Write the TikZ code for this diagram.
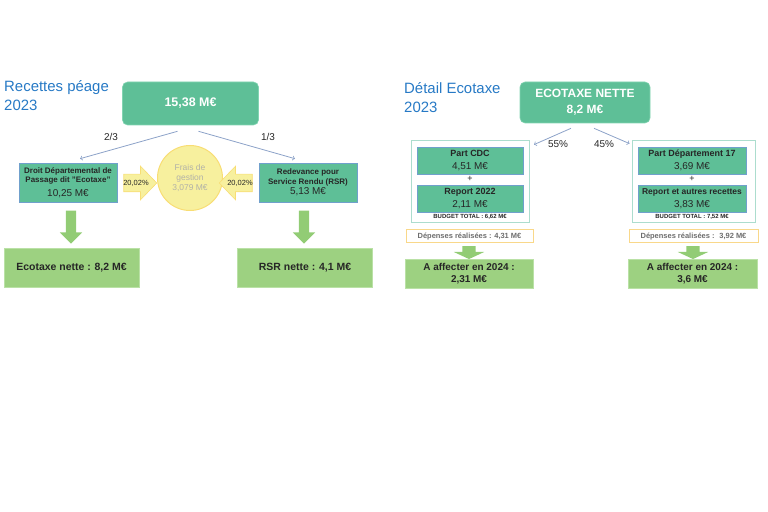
\documentclass[tikz,border=0pt]{standalone}
\usepackage{fontspec}
\setmainfont{Liberation Sans}
\usetikzlibrary{shapes.arrows}

\definecolor{titleblue}{RGB}{38,121,197}
\definecolor{boxgreen}{RGB}{94,191,151}
\definecolor{boxedge}{RGB}{130,212,178}
\definecolor{blueedge}{RGB}{112,160,204}
\definecolor{netgreen}{RGB}{157,209,129}
\definecolor{netedge}{RGB}{186,225,166}
\definecolor{arrowgreen}{RGB}{146,204,117}
\definecolor{sunfill}{RGB}{247,240,158}
\definecolor{sunedge}{RGB}{248,221,116}
\definecolor{linkblue}{RGB}{140,162,200}
\definecolor{framegreen}{RGB}{172,221,206}
\definecolor{spentedge}{RGB}{249,216,138}
\definecolor{greytext}{RGB}{110,110,110}
\definecolor{fadedtext}{RGB}{178,178,168}
\definecolor{darktext}{RGB}{38,38,38}

\begin{document}
\begin{tikzpicture}[x=1bp, y=-1bp,
    title/.style={anchor=north west, align=left, inner sep=0pt, text=titleblue, font=\fontsize{15}{19}\selectfont},
    headbox/.style={draw=boxedge, fill=boxgreen, rounded corners=5bp, line width=0.6bp, text=white, align=center},
    partbox/.style={draw=blueedge, fill=boxgreen, line width=0.6bp, inner sep=1bp, text=darktext, align=center},
    netbox/.style={draw=netedge, fill=netgreen, line width=0.6bp, inner sep=1bp, text=darktext, align=center},
    frame/.style={draw=framegreen, line width=0.8bp},
    spent/.style={draw=spentedge, fill=white, line width=1bp, inner sep=1bp, text=greytext, font=\bfseries\fontsize{7.5}{9}\selectfont},
    budget/.style={inner sep=0pt, text=darktext, font=\bfseries\fontsize{6}{7}\selectfont},
    downarrow/.style={single arrow, fill=arrowgreen, rotate=-90, inner xsep=1bp},
    pctarrow/.style={single arrow, draw=sunedge, fill=sunfill, line width=0.6bp, minimum height=33bp, inner xsep=1bp, inner ysep=8.5bp, single arrow head extend=8bp, single arrow tip angle=92, label={[text=darktext, font=\fontsize{7.5}{8}\selectfont]center:20,02\%}},
    link/.style={->, draw=linkblue, line width=0.8bp},
    lbl/.style={inner sep=0pt, text=darktext, font=\fontsize{10}{12}\selectfont}]

        \useasboundingbox (0,0) rectangle (768,512);

        \node[title] (recTitle) at (4,80) {Recettes péage\\2023};
        \node[headbox, minimum width=136bp, minimum height=43bp, font=\bfseries\fontsize{12.5}{15}\selectfont] (gross) at (190.5,103.5) {15,38 M€};

        \node[partbox, minimum width=98bp, minimum height=39bp, font=\fontsize{8}{9.5}\selectfont] (droit) at (68,182.5) {\textbf{Droit Départemental de}\\\textbf{Passage dit "Ecotaxe"}\\[4bp]{\fontsize{10}{11}\selectfont 10,25 M€}};
        \node[partbox, minimum width=98bp, minimum height=39bp, font=\fontsize{8}{10}\selectfont] (rsr) at (308,182.5) {\textbf{Redevance pour}\\\textbf{Service Rendu (RSR)}\\{\fontsize{10}{11}\selectfont 5,13 M€}};
        \node[circle, draw=sunedge, fill=sunfill, line width=1bp, minimum size=65bp, inner sep=0pt, align=center, text=fadedtext, font=\fontsize{8.5}{10}\selectfont] (frais) at (190,178) {Frais de\\gestion\\3,079 M€};
        \node[pctarrow] (pctDroit) at (136,183) {};
        \node[pctarrow, shape border rotate=180] (pctRsr) at (240,183) {};

        \node[downarrow, minimum height=33bp, inner ysep=5bp, single arrow head extend=6bp] (downDroit) at (71,224.5) {};
        \node[downarrow, minimum height=33bp, inner ysep=5bp, single arrow head extend=6bp] (downRsr) at (304,224.5) {};
        \node[netbox, minimum width=135bp, minimum height=39bp, font=\bfseries\fontsize{10.5}{12}\selectfont] (netEco) at (71.5,267.5) {Ecotaxe nette : 8,2 M€};
        \node[netbox, minimum width=135bp, minimum height=39bp, font=\bfseries\fontsize{10.5}{12}\selectfont] (netRsr) at (305,267.5) {RSR nette : 4,1 M€};

        \draw[link] ([shift={(-13,6)}]gross.south) -- ([shift={(12,-4)}]droit.north);
        \draw[link] ([shift={(8,6)}]gross.south) -- ([shift={(-13,-4)}]rsr.north);
        \node[lbl] (twoThirds) at (111,137) {2/3};
        \node[lbl] (oneThird) at (268,137) {1/3};

        \node[title] (ecoTitle) at (404,82) {Détail Ecotaxe\\2023};
        \node[headbox, minimum width=130bp, minimum height=41bp, font=\bfseries\fontsize{12}{16}\selectfont] (ecoNet) at (585,102.5) {ECOTAXE NETTE\\8,2 M€};

        \node[frame, minimum width=118bp, minimum height=82bp] (cdcFrame) at (470,181.5) {};
        \node[partbox, minimum width=106bp, minimum height=27bp, font=\fontsize{10}{12.5}\selectfont] (cdc) at (470,160.5) {{\bfseries\fontsize{9}{12.5}\selectfont Part CDC}\\4,51 M€};
        \node[lbl, font=\fontsize{9}{10}\selectfont] (plusCdc) at (470,179) {+};
        \node[partbox, minimum width=106bp, minimum height=27bp, font=\fontsize{10}{12.5}\selectfont] (report22) at (470,198.5) {{\bfseries\fontsize{9}{12.5}\selectfont Report 2022}\\2,11 M€};
        \node[budget] (budgetCdc) at (470,217) {BUDGET TOTAL : 6,62 M€};

        \node[frame, minimum width=123bp, minimum height=82bp] (depFrame) at (693.5,181.5) {};
        \node[partbox, minimum width=108bp, minimum height=27bp, font=\fontsize{10}{12.5}\selectfont] (dep17) at (692,160.5) {{\bfseries\fontsize{9}{12.5}\selectfont Part Département 17}\\3,69 M€};
        \node[lbl, font=\fontsize{9}{10}\selectfont] (plusDep) at (692,179) {+};
        \node[partbox, minimum width=108bp, minimum height=27bp, font=\fontsize{10}{12.5}\selectfont] (reportDep) at (692,198.5) {{\bfseries\fontsize{8.5}{12.5}\selectfont Report et autres recettes}\\3,83 M€};
        \node[budget] (budgetDep) at (692,217) {BUDGET TOTAL : 7,52 M€};

        \draw[link] ([shift={(-14,5)}]ecoNet.south) -- ([shift={(64,4.5)}]cdcFrame.north);
        \draw[link] ([shift={(9,5)}]ecoNet.south) -- ([shift={(-64,3.5)}]depFrame.north);
        \node[lbl] (shareCdc) at (558,144) {55\%};
        \node[lbl] (shareDep) at (604,144) {45\%};

        \node[spent, minimum width=127bp, minimum height=13bp] (spentCdc) at (469.5,236.5) {Dépenses réalisées : 4,31 M€};
        \node[spent, minimum width=129bp, minimum height=13bp] (spentDep) at (693.5,236.5) {Dépenses réalisées : \ 3,92 M€};
        \node[downarrow, minimum height=13bp, inner ysep=6.5bp, single arrow head extend=8.5bp, single arrow tip angle=130] (downCdc) at (469,251) {};
        \node[downarrow, minimum height=13bp, inner ysep=6.5bp, single arrow head extend=8.5bp, single arrow tip angle=130] (downDep) at (693,251) {};
        \node[netbox, minimum width=128bp, minimum height=29bp, font=\bfseries\fontsize{10}{11.6}\selectfont] (affectCdc) at (469,273.5) {A affecter en 2024 :\\2,31 M€};
        \node[netbox, minimum width=129bp, minimum height=29bp, font=\bfseries\fontsize{10}{11.6}\selectfont] (affectDep) at (692.5,273.5) {A affecter en 2024 :\\3,6 M€};
    \end{tikzpicture}
\end{document}
